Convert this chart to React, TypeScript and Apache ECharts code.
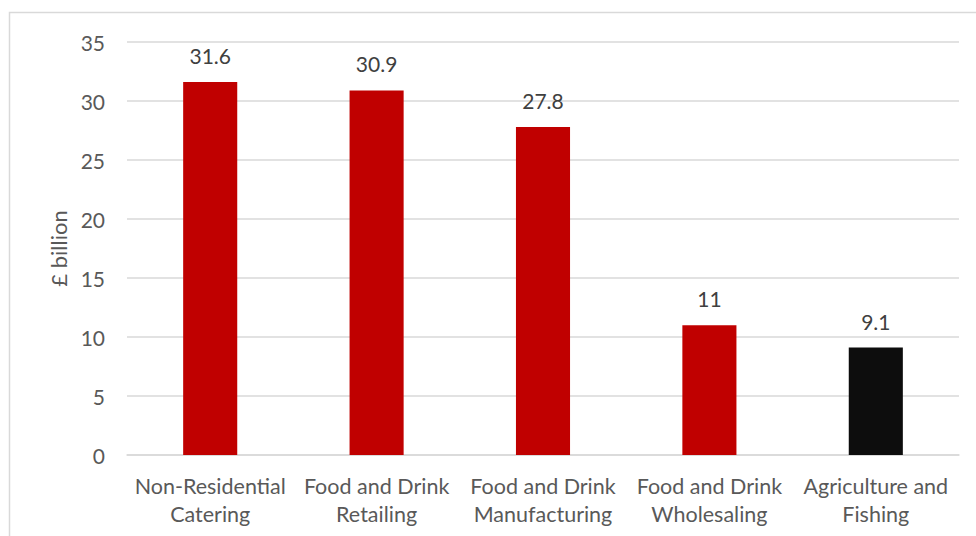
import React, { useEffect, useRef } from "react";
import * as echarts from "echarts";

const categories = [
  "Non-Residential\nCatering",
  "Food and Drink\nRetailing",
  "Food and Drink\nManufacturing",
  "Food and Drink\nWholesaling",
  "Agriculture and\nFishing",
];
const values = [31.6, 30.9, 27.8, 11, 9.1];
const barColors = ["#C00000", "#C00000", "#C00000", "#C00000", "#0D0D0D"];
const yAxisName = "£ billion";

const FONT = "Lato, 'Open Sans', sans-serif";
const TEXT = "#595959";

export default function App() {
  const ref = useRef<HTMLDivElement>(null);
  useEffect(() => {
    if (!ref.current) return;
    const chart = echarts.init(ref.current, undefined, { renderer: "svg" });
    chart.setOption({
      animation: false,
      backgroundColor: "#ffffff",
      textStyle: { fontFamily: FONT },
      graphic: [
        {
          type: "rect",
          shape: { x: 9.5, y: 12.5, width: 1000, height: 600 },
          style: { fill: "none", stroke: "#d9d9d9", lineWidth: 1.5 },
          silent: true,
        },
      ],
      grid: { left: 127, right: 17, top: 42, bottom: 81 },
      xAxis: {
        type: "category",
        data: categories,
        axisLine: { show: true, lineStyle: { color: "#d9d9d9", width: 1.5 } },
        axisTick: { show: false },
        axisLabel: {
          color: TEXT,
          fontSize: 21.5,
          fontFamily: FONT,
          lineHeight: 28,
          margin: 17,
          interval: 0,
        },
      },
      yAxis: {
        type: "value",
        min: 0,
        max: 35,
        interval: 5,
        name: yAxisName,
        nameLocation: "middle",
        nameGap: 54,
        nameRotate: 90,
        nameTextStyle: { color: TEXT, fontSize: 22, fontFamily: FONT },
        axisLine: { show: false },
        axisTick: { show: false },
        axisLabel: { color: TEXT, fontSize: 21, fontFamily: FONT, margin: 22 },
        splitLine: { lineStyle: { color: "#d9d9d9", width: 1.5 } },
      },
      series: [
        {
          type: "bar",
          data: values.map((v, i) => ({ value: v, itemStyle: { color: barColors[i] } })),
          barWidth: "32.5%",
          label: {
            show: true,
            position: "top",
            distance: 16,
            color: "#404040",
            fontSize: 21,
            fontFamily: FONT,
          },
        },
      ],
    });
    return () => chart.dispose();
  }, []);
  return (
    <div
      ref={ref}
      style={{ position: "fixed", left: 0, top: 0, width: 976, height: 536 }}
    />
  );
}
